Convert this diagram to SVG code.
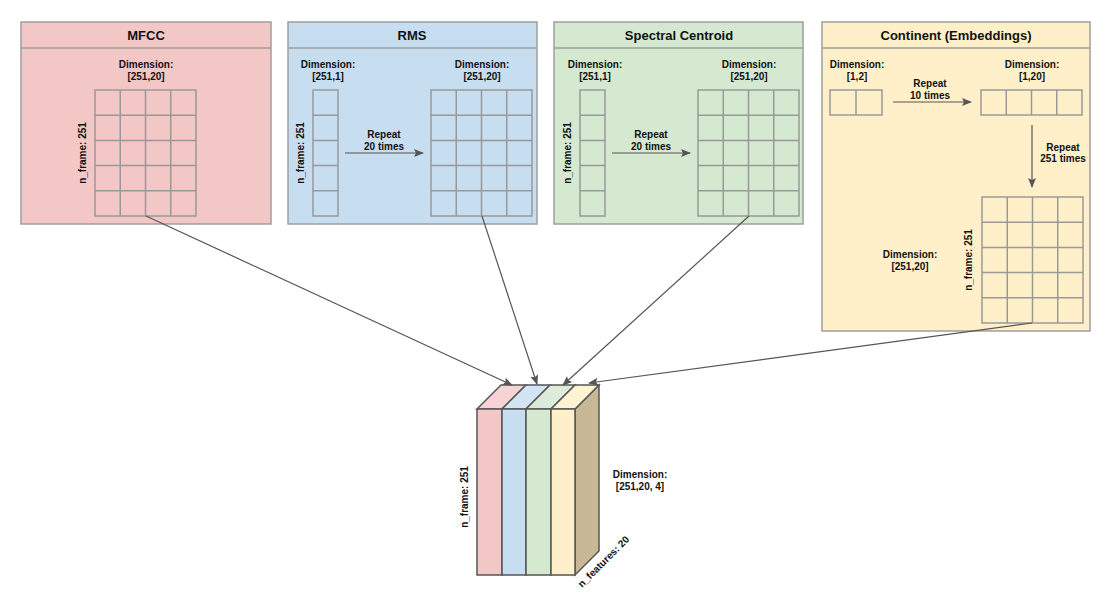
<svg xmlns="http://www.w3.org/2000/svg" width="1110" height="598" viewBox="0 0 1110 598">
<style>
text{font-family:"Liberation Sans",Arial,sans-serif;font-weight:bold;fill:#111;text-anchor:middle}
.t{font-size:13px}
.s{font-size:10px}
.panel{stroke:#9e9e9e;stroke-width:1.5}
.grid{fill:none;stroke:#999;stroke-width:1.5}
.conn{fill:none;stroke:#555;stroke-width:1.2}
.cube{stroke:#555;stroke-width:1.5}
</style>
<defs>
<marker id="ah" viewBox="0 0 10 10" refX="9" refY="5" markerWidth="10" markerHeight="10" markerUnits="userSpaceOnUse" orient="auto">
<path d="M0,1 L10,5 L0,9 L2,5 z" fill="#555"/>
</marker>
</defs>
<rect width="1110" height="598" fill="#fff"/>

<g id="mfcc">
<rect class="panel" x="21" y="22" width="250" height="202" fill="#f4c7c7"/>
<line class="panel" x1="21" y1="48" x2="271" y2="48"/>
<text class="t" x="146" y="40">MFCC</text>
<text class="s" x="146" y="68">Dimension:</text>
<text class="s" x="146" y="80">[251,20]</text>
<path class="grid" d="M95,90h101v126h-101z M120.25,90v126 M145.5,90v126 M170.75,90v126 M95,115.2h101 M95,140.4h101 M95,165.6h101 M95,190.8h101"/>
<text class="s" transform="translate(86,153) rotate(-90)">n_frame: 251</text>
</g>

<g id="rms">
<rect class="panel" x="288" y="22" width="249" height="202" fill="#c7ddf0"/>
<line class="panel" x1="288" y1="48" x2="537" y2="48"/>
<text class="t" x="412" y="40">RMS</text>
<text class="s" x="328" y="68">Dimension:</text>
<text class="s" x="328" y="80">[251,1]</text>
<text class="s" x="482" y="68">Dimension:</text>
<text class="s" x="482" y="80">[251,20]</text>
<path class="grid" d="M313,90h25v126h-25z M313,115.2h25 M313,140.4h25 M313,165.6h25 M313,190.8h25"/>
<path class="grid" d="M431,90h101v126h-101z M456.25,90v126 M481.5,90v126 M506.75,90v126 M431,115.2h101 M431,140.4h101 M431,165.6h101 M431,190.8h101"/>
<text class="s" transform="translate(304,153) rotate(-90)">n_frame: 251</text>
<line class="conn" x1="345" y1="153" x2="423" y2="153" marker-end="url(#ah)"/>
<text class="s" x="384" y="138">Repeat</text>
<text class="s" x="384" y="150">20 times</text>
</g>

<g id="spectral">
<rect class="panel" x="554" y="22" width="249" height="202" fill="#d5e8d0"/>
<line class="panel" x1="554" y1="48" x2="803" y2="48"/>
<text class="t" x="679" y="40">Spectral Centroid</text>
<text class="s" x="595" y="68">Dimension:</text>
<text class="s" x="595" y="80">[251,1]</text>
<text class="s" x="749" y="68">Dimension:</text>
<text class="s" x="749" y="80">[251,20]</text>
<path class="grid" d="M580,90h25v126h-25z M580,115.2h25 M580,140.4h25 M580,165.6h25 M580,190.8h25"/>
<path class="grid" d="M698,90h101v126h-101z M723.25,90v126 M748.5,90v126 M773.75,90v126 M698,115.2h101 M698,140.4h101 M698,165.6h101 M698,190.8h101"/>
<text class="s" transform="translate(571,153) rotate(-90)">n_frame: 251</text>
<line class="conn" x1="612" y1="153" x2="690" y2="153" marker-end="url(#ah)"/>
<text class="s" x="651" y="138">Repeat</text>
<text class="s" x="651" y="150">20 times</text>
</g>

<g id="continent">
<rect class="panel" x="822" y="22" width="268" height="309" fill="#fff0c9"/>
<line class="panel" x1="822" y1="48" x2="1090" y2="48"/>
<text class="t" x="956" y="40">Continent (Embeddings)</text>
<text class="s" x="857" y="68">Dimension:</text>
<text class="s" x="857" y="80">[1,2]</text>
<text class="s" x="1032" y="68">Dimension:</text>
<text class="s" x="1032" y="80">[1,20]</text>
<path class="grid" d="M830,90h52v25h-52z M856,90v25"/>
<path class="grid" d="M981,90h101v25h-101z M1006.25,90v25 M1031.5,90v25 M1056.75,90v25"/>
<line class="conn" x1="893" y1="102" x2="971" y2="102" marker-end="url(#ah)"/>
<text class="s" x="930" y="87">Repeat</text>
<text class="s" x="930" y="99">10 times</text>
<line class="conn" x1="1032" y1="125" x2="1032" y2="187" marker-end="url(#ah)"/>
<text class="s" x="1063" y="151">Repeat</text>
<text class="s" x="1063" y="162">251 times</text>
<path class="grid" d="M982,197h101v126h-101z M1007.25,197v126 M1032.5,197v126 M1057.75,197v126 M982,222.2h101 M982,247.4h101 M982,272.6h101 M982,297.8h101"/>
<text class="s" x="910" y="258">Dimension:</text>
<text class="s" x="910" y="270">[251,20]</text>
<text class="s" transform="translate(972,260) rotate(-90)">n_frame: 251</text>
</g>

<g id="stack">
<polygon class="cube" points="575,409 599,385 599,551 575,575" fill="#c7b898"/>
<polygon class="cube" points="477,409 502,409 526,385 501,385" fill="#f8d3d6"/>
<polygon class="cube" points="502,409 526,409 550,385 526,385" fill="#d3e5f5"/>
<polygon class="cube" points="526,409 551,409 575,385 550,385" fill="#dcecd9"/>
<polygon class="cube" points="551,409 575,409 599,385 575,385" fill="#fff3d3"/>
<rect class="cube" x="477" y="409" width="25" height="166" fill="#f4c7c7"/>
<rect class="cube" x="502" y="409" width="24" height="166" fill="#c7ddf0"/>
<rect class="cube" x="526" y="409" width="25" height="166" fill="#d5e8d0"/>
<rect class="cube" x="551" y="409" width="24" height="166" fill="#fff0c9"/>
<text class="s" transform="translate(468,497) rotate(-90)">n_frame: 251</text>
<text class="s" x="640" y="478">Dimension:</text>
<text class="s" x="640" y="490">[251,20, 4]</text>
<text class="s" transform="translate(606,564) rotate(-45)">n_features: 20</text>
</g>

<g id="connectors">
<line class="conn" x1="146" y1="216" x2="512" y2="385" marker-end="url(#ah)"/>
<line class="conn" x1="482" y1="216" x2="537" y2="384" marker-end="url(#ah)"/>
<line class="conn" x1="749" y1="216" x2="563" y2="385" marker-end="url(#ah)"/>
<line class="conn" x1="1032" y1="323" x2="589" y2="383" marker-end="url(#ah)"/>
</g>
</svg>
